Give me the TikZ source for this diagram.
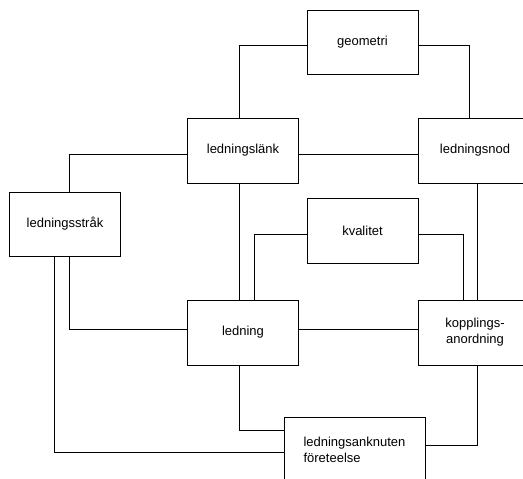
\documentclass[tikz,border=0pt]{standalone}
\usepackage{fontspec}
\setmainfont{Liberation Sans}
\begin{document}
\begin{tikzpicture}[x=1pt,y=-1pt,
  box/.style={draw,line width=0.8pt,fill=white,minimum width=111pt,minimum height=65pt,inner sep=0pt,align=center,font=\fontsize{13}{16}\selectfont},
  conn/.style={line width=0.8pt}]
\useasboundingbox (0,0) rectangle (523,479);
\clip (0,0) rectangle (523,479);
\node[box,minimum height=64pt] (geo) at (362.5,42) {geometri};
\node[box] (lank) at (243,150.5) {ledningslänk};
\node[box,minimum width=114pt] (nod) at (475,150.5) {ledningsnod};
\node[box,minimum height=64pt] (strak) at (65,224) {ledningsstråk};
\node[box] (kval) at (362.5,231) {kvalitet};
\node[box] (led) at (243,332.5) {ledning};
\node[box,minimum width=114pt] (kopp) at (475,332.5) {kopplings-\\anordning};
\node[box,minimum width=141pt,align=left] (ank) at (354.5,449.5) {ledningsanknuten\\företeelse};
\draw[conn] ([yshift=-3pt]geo.west) -| ([xshift=-4pt]lank.north);
\draw[conn] ([yshift=-3pt]geo.east) -| ([xshift=-6pt]nod.north);
\draw[conn] ([yshift=-4pt]lank.east) -- ([yshift=-4pt]nod.west);
\draw[conn] ([yshift=-4pt]lank.west) -| ([xshift=4pt]strak.north);
\draw[conn] ([xshift=-4pt]lank.south) -- ([xshift=-4pt]led.north);
\draw[conn] ([yshift=-3pt]kval.west) -| ([xshift=11pt]led.north);
\draw[conn] ([yshift=-3pt]kval.east) -| ([xshift=-12pt]kopp.north);
\draw[conn] ([xshift=2pt]nod.south) -- ([xshift=2pt]kopp.north);
\draw[conn] ([yshift=3.5pt]led.east) -- ([yshift=3.5pt]kopp.west);
\draw[conn] ([xshift=4pt]strak.south) |- ([yshift=3.5pt]led.west);
\draw[conn] ([xshift=-11pt]strak.south) |- ([yshift=-2.5pt]ank.west);
\draw[conn] ([xshift=-4pt]led.south) |- ([yshift=19.5pt]ank.west);
\draw[conn] ([xshift=2pt]kopp.south) |- ([yshift=4.5pt]ank.east);
\end{tikzpicture}
\end{document}
